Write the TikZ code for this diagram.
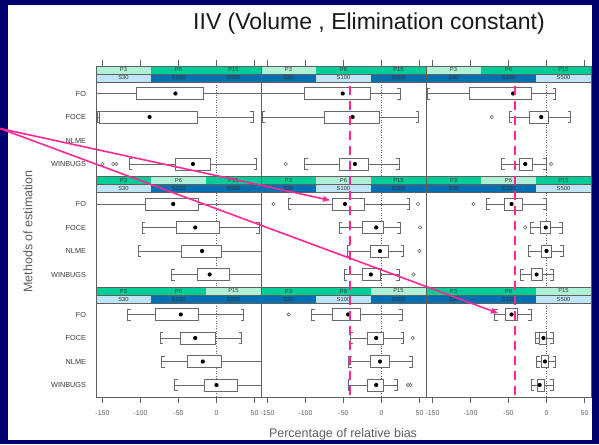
\documentclass[tikz,border=0pt]{standalone}
\usepackage{fontspec}
\setmainfont{Liberation Sans}
\usetikzlibrary{arrows.meta}

\definecolor{navy}{RGB}{0,0,110}
\definecolor{titlecol}{RGB}{25,25,25}
\definecolor{stripG}{RGB}{0,204,150}
\definecolor{stripLG}{RGB}{175,240,215}
\definecolor{stripB}{RGB}{0,112,176}
\definecolor{stripLB}{RGB}{190,228,245}
\definecolor{pinkline}{RGB}{255,40,150}
\definecolor{axgray}{RGB}{95,95,95}
\definecolor{labgray}{RGB}{55,55,55}
\definecolor{boxgray}{RGB}{105,105,105}

\tikzset{
  frame/.style={draw=axgray, line width=0.7pt},
  whisk/.style={draw=boxgray, line width=0.8pt},
  boxst/.style={draw=boxgray, fill=white, line width=0.85pt},
  outst/.style={draw=boxgray, line width=0.6pt},
  zeroline/.style={draw=axgray, line width=0.5pt, dash pattern=on 1pt off 1.5pt},
  tickst/.style={draw=axgray, line width=0.6pt},
  ticklab/.style={font=\fontsize{7}{7}\selectfont, text=axgray},
  catlab/.style={font=\fontsize{7.3}{7.3}\selectfont, text=labgray, anchor=east},
  striptxt/.style={font=\fontsize{5.8}{5.8}\selectfont, text=labgray},
  axtitle/.style={font=\fontsize{12.5}{12.5}\selectfont, text=axgray},
  pinkdash/.style={draw=pinkline, line width=2.2pt, dash pattern=on 9pt off 6pt},
  pinkarrow/.style={draw=pinkline, line width=1.6pt, -{Latex[length=8pt,width=6.5pt]}},
}

% strips, frame and zero reference line of panel (#1 = column, #2 = row)
\newcommand\panel[2]{%
  \pgfmathsetmacro\pL{96+165*(#1-1)}%
  \pgfmathsetmacro\pT{66+110.5*(#2-1)}%
  \foreach \k/\pl/\sl in {1/P3/S30,2/P6/S100,3/P15/S500}{%
    \ifnum\k=#2 \def\tc{stripLG}\else\def\tc{stripG}\fi
    \ifnum\k=#1 \def\bc{stripLB}\else\def\bc{stripB}\fi
    \fill[\tc] ({\pL+55*(\k-1)},\pT) rectangle ({\pL+55*\k},{\pT+8});
    \fill[\bc] ({\pL+55*(\k-1)},{\pT+8}) rectangle ({\pL+55*\k},{\pT+16});
    \node[striptxt] (pl-#1-#2-\k) at ({\pL+55*\k-27.5},{\pT+4}) {\pl};
    \node[striptxt] (sl-#1-#2-\k) at ({\pL+55*\k-27.5},{\pT+12}) {\sl};
  }
  \draw[zeroline] ({\pL+120.5},{\pT+16}) -- ({\pL+120.5},{\pT+110.5});
  \draw[frame] (\pL,\pT) rectangle ({\pL+165},{\pT+110.5});
  \draw[frame] (\pL,{\pT+8}) -- ({\pL+165},{\pT+8});
  \draw[frame] (\pL,{\pT+16}) -- ({\pL+165},{\pT+16});
}

% panel contents in data units (x = percentage, y = offset from panel top)
\newcommand\pdata[3]{%
  \pgfmathsetmacro\pL{96+165*(#1-1)}%
  \pgfmathsetmacro\pT{66+110.5*(#2-1)}%
  \begin{scope}
    \clip (\pL,{\pT+16}) rectangle ({\pL+165},{\pT+110.5});
    \begin{scope}[xshift=\pL pt+120.5pt, yshift=-\pT pt, x=0.76pt]
      #3
    \end{scope}
  \end{scope}
}

% box and whiskers: y, low whisker, q1, median, q3, high whisker
\newcommand\bxw[6]{%
  \draw[whisk] (#2,#1) -- (#3,#1) (#5,#1) -- (#6,#1);
  \draw[whisk] ({#2+4},{#1-5.5}) -- (#2,{#1-5.5}) -- (#2,{#1+5.5}) -- ({#2+4},{#1+5.5});
  \draw[whisk] ({#6-4},{#1-5.5}) -- (#6,{#1-5.5}) -- (#6,{#1+5.5}) -- ({#6-4},{#1+5.5});
  \draw[boxst] (#3,{#1-6}) rectangle (#5,{#1+6});
  \fill[black] (#4,#1) circle (2.1pt);
}
\newcommand\outl[2]{\draw[outst] (#2,#1) circle (1.7pt);}

\def\yA{27.5}\def\yB{51}\def\yC{74.5}\def\yD{98}

\begin{document}
\begin{tikzpicture}[x=1pt,y=-1pt, every node/.style={inner sep=0pt, outer sep=0pt}]
\useasboundingbox (0,0) rectangle (599,444);
\fill[navy] (0,0) rectangle (599,444);
\fill[white] (8,5) rectangle (592,440);

\node[anchor=base, font=\fontsize{23}{23}\selectfont, text=titlecol] (title) at (369,30)
  {IIV (Volume , Elimination constant)};

% panels
\foreach \c in {1,2,3}{\foreach \r in {1,2,3}{\panel{\c}{\r}}}

% method labels
\foreach \r in {1,2,3}{%
  \pgfmathsetmacro\pT{66+110.5*(\r-1)}%
  \foreach \lab/\dy [count=\i] in {FO/27.5,FOCE/51,NLME/74.5,WINBUGS/98}{%
    \node[catlab] (cat-\r-\i) at (86,{\pT+\dy}) {\lab};
  }
}

% axis ticks and tick labels
\foreach \c in {1,2,3}{%
  \pgfmathsetmacro\zx{216.5+165*(\c-1)}%
  \foreach \v [count=\i] in {-150,-100,-50,0,50}{%
    \draw[tickst] ({\zx+0.76*\v},60.5) -- ({\zx+0.76*\v},66);
    \draw[tickst] ({\zx+0.76*\v},397.5) -- ({\zx+0.76*\v},402.5);
    \node[ticklab] (tl-\c-\i) at ({\zx+0.76*\v},413) {\v};
  }
}

% data
\pdata{1}{1}{
  \bxw{\yA}{-175}{-105}{-54}{-17}{75}
  \bxw{\yB}{-157}{-154}{-88}{-25}{48}
  \bxw{\yD}{-115}{-54}{-31}{-8}{53}
  \outl{\yD}{-150}\outl{\yD}{-136}\outl{\yD}{-132}
}
\pdata{2}{1}{
  \bxw{\yA}{-175}{-102}{-51}{-15}{25}
  \bxw{\yB}{-157}{-75}{-38}{-3}{49}
  \bxw{\yD}{-101}{-55}{-35}{-17}{23}
  \outl{\yD}{-126}
}
\pdata{3}{1}{
  \bxw{\yA}{-157}{-102}{-44}{-20}{12}
  \bxw{\yB}{-49}{-22}{-7}{2}{32}
  \outl{\yB}{-72}
  \bxw{\yD}{-59}{-36}{-28}{-19}{0}
  \outl{\yD}{6}
}
\pdata{1}{2}{
  \bxw{\yA}{-175}{-94}{-57}{-24}{75}
  \bxw{\yB}{-98}{-53}{-28}{4}{56}
  \bxw{\yC}{-103}{-46}{-19}{7}{75}
  \bxw{\yD}{-59}{-25}{-9}{17}{75}
}
\pdata{2}{2}{
  \bxw{\yA}{-123}{-65}{-48}{-22}{37}
  \outl{\yA}{-142}\outl{\yA}{48}
  \bxw{\yB}{-56}{-25}{-7}{3}{25}
  \outl{\yB}{51}
  \bxw{\yC}{-45}{-14}{-2}{9}{29}
  \outl{\yC}{50}
  \bxw{\yD}{-49}{-25}{-14}{-2}{23}
  \outl{\yD}{42}
}
\pdata{3}{2}{
  \bxw{\yA}{-79}{-56}{-46}{-32}{0}
  \outl{\yA}{-96}
  \bxw{\yB}{-21}{-8}{-1}{5}{21}
  \outl{\yB}{-28}
  \bxw{\yC}{-24}{-7}{0}{6}{22}
  \bxw{\yD}{-34}{-20}{-13}{-6}{9}
}
\pdata{1}{3}{
  \bxw{\yA}{-117}{-80}{-47}{-24}{36}
  \bxw{\yB}{-74}{-48}{-28}{-2}{33}
  \bxw{\yC}{-72}{-38}{-18}{7}{75}
  \bxw{\yD}{-55}{-16}{0}{27}{75}
}
\pdata{2}{3}{
  \bxw{\yA}{-92}{-65}{-44}{-28}{27}
  \outl{\yA}{-122}
  \bxw{\yB}{-41}{-18}{-7}{3}{29}
  \outl{\yB}{41}
  \bxw{\yC}{-43}{-15}{-2}{10}{40}
  \bxw{\yD}{-44}{-18}{-7}{3}{21}
  \outl{\yD}{35}\outl{\yD}{38}
}
\pdata{3}{3}{
  \bxw{\yA}{-68}{-54}{-46}{-38}{-20}
  \bxw{\yB}{-14}{-9}{-4}{0}{9}
  \bxw{\yC}{-13}{-7}{-2}{2}{12}
  \bxw{\yD}{-20}{-12}{-9}{-3}{9}
}

% axis titles
\node[axtitle, anchor=base] (xtitle) at (343,437.5) {Percentage of relative bias};
\node[axtitle, rotate=90] (ytitle) at (28,231.5) {Methods of estimation};

% reference lines at -42 %
\coordinate (refBtop) at (349.6,86);
\coordinate (refBbot) at (349.6,397.5);
\coordinate (refCtop) at (514.6,86);
\coordinate (refCbot) at (514.6,397.5);
\draw[pinkdash] (refBtop) -- (refBbot);
\draw[pinkdash] (refCtop) -- (refCbot);

% pointer arrows
\coordinate (src) at (0,128.5);
\coordinate (tipA) at (331,200.5);
\coordinate (tipB) at (499,313.5);
\draw[pinkarrow] (src) -- (tipA);
\draw[pinkarrow] (src) -- (tipB);
\end{tikzpicture}
\end{document}
